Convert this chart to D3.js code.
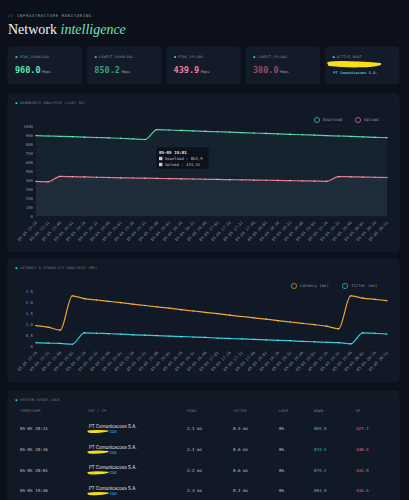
<!DOCTYPE html>
<html>
<head>
<meta charset="utf-8">
<script src="https://cdn.jsdelivr.net/npm/d3@7"></script>
<style>
  body { margin: 0; background: #0b101b; }
  svg { display: block; }
</style>
</head>
<body>
<div id="chart"></div>
<script>
const WIDTH = 409, HEIGHT = 500;
const MONO = "'DejaVu Sans Mono', monospace";
const SANS = "Inter, 'Noto Sans', sans-serif";

// data
const times = ["05-05 13:16","05-05 13:31","05-05 13:46","05-05 14:01","05-05 14:16","05-05 14:31",
  "05-05 14:46","05-05 15:01","05-05 15:16","05-05 15:31","05-05 15:46","05-05 16:01",
  "05-05 16:16","05-05 16:31","05-05 16:46","05-05 17:01","05-05 17:16","05-05 17:31",
  "05-05 17:46","05-05 18:01","05-05 18:16","05-05 18:31","05-05 18:46","05-05 19:01",
  "05-05 19:16","05-05 19:31","05-05 19:46","05-05 20:01","05-05 20:16","05-05 20:31"];
const download = [893, 889, 885, 881, 876, 872, 868, 863.9, 857, 850.2, 960.0, 955.3, 950.5, 945.8, 941.0,
  936.3, 931.5, 926.8, 922.0, 917.3, 912.5, 907.8, 903.0, 898.3, 893.5, 888.8, 884.0, 879.2, 874.5, 869.8];
const upload = [384, 380.0, 439.9, 436.8, 433.7, 430.6, 427.6, 424.55, 422.3, 420.0, 417.7, 415.5, 413.2, 410.9, 408.6,
  406.3, 404.1, 401.8, 399.5, 397.2, 394.9, 392.7, 390.4, 388.1, 385.8, 438.1, 435.5, 432.9, 430.3, 427.7];
const latency = [0.93, 0.86, 0.72, 2.28, 2.15, 2.09, 2.03, 1.97, 1.90, 1.84, 1.78, 1.72, 1.65, 1.59, 1.53,
  1.47, 1.40, 1.34, 1.28, 1.22, 1.15, 1.09, 1.03, 0.97, 0.90, 0.78, 2.28, 2.18, 2.12, 2.06];
const jitter = [0.15, 0.13, 0.12, 0.08, 0.60, 0.58, 0.56, 0.54, 0.51, 0.49, 0.47, 0.45, 0.43, 0.41, 0.39,
  0.36, 0.34, 0.32, 0.30, 0.28, 0.26, 0.24, 0.21, 0.19, 0.17, 0.15, 0.10, 0.60, 0.58, 0.54];
const bwTicks = [0, 100, 200, 300, 400, 500, 600, 700, 800, 900, 1000];
const latTicks = [0, 0.5, 1, 1.5, 2, 2.5];

const kpiLabels = ["PEAK_DOWNLOAD", "LOWEST_DOWNLOAD", "PEAK_UPLOAD", "LOWEST_UPLOAD"];
const kpiValues = ["960.0", "850.2", "439.9", "380.0"];

const logHeaders = ["TIMESTAMP", "ISP / IP", "PING", "JITTER", "LOSS", "DOWN", "UP"];
const logTimes = ["05-05 20:31", "05-05 20:16", "05-05 20:01", "05-05 19:46"];
const logPing = ["2.1 ms", "2.1 ms", "2.2 ms", "2.3 ms"];
const logJitter = ["0.5 ms", "0.6 ms", "0.6 ms", "0.1 ms"];
const logLoss = ["0%", "0%", "0%", "0%"];
const logDown = ["869.8", "874.5", "879.2", "884.0"];
const logUp = ["427.7", "430.3", "432.9", "435.5"];
const ispName = "PT Comunicacoes S.A.";

const tipIndex = 7;

let svg = d3.select("#chart").append("svg")
  .attr("width", WIDTH).attr("height", HEIGHT);

svg.append("rect").attr("width", WIDTH).attr("height", HEIGHT).attr("fill", "#0b101b");

// header
svg.append("text").attr("x", 8).attr("y", 17)
  .style("font-family", MONO).style("font-size", "3.8px").style("letter-spacing", "0.7px")
  .attr("fill", "#7fb8a4").text("// INFRASTRUCTURE MONITORING");
let title = svg.append("text").attr("x", 8).attr("y", 34)
  .style("font-family", "'Liberation Serif', serif").style("font-size", "14px");
title.append("tspan").attr("fill", "#f1f5f9").text("Network ");
title.append("tspan").attr("fill", "#6ee7b7").style("font-style", "italic").text("intelligence");

// kpi cards
const cardX = d3.scaleBand().domain(d3.range(5)).range([8, 399]).paddingInner(0.07);
const kpiColors = ["#5ee6a8", "#3c9c80", "#f27a9a", "#9a4a60"];

let cards = svg.append("g");
d3.range(5).forEach(function(i) {
  let g = cards.append("g").attr("transform", `translate(${cardX(i)}, 47)`);
  g.append("rect").attr("width", cardX.bandwidth()).attr("height", 37).attr("rx", 3)
    .attr("fill", "#131b29").attr("stroke", "#182131").attr("stroke-width", 0.5);
  g.append("rect").attr("x", 7.5).attr("y", 9.2).attr("width", 1.8).attr("height", 1.8).attr("fill", "#2dd4bf");
  g.append("text").attr("x", 11.5).attr("y", 11)
    .style("font-family", MONO).style("font-size", "3.3px").style("letter-spacing", "0.3px")
    .attr("fill", "#7b8597").text(i < 4 ? kpiLabels[i] : "ACTIVE_NODE");
  if (i < 4) {
    let t = g.append("text").attr("x", 7).attr("y", 26)
      .style("font-family", MONO);
    t.append("tspan").style("font-size", "8.5px").style("font-weight", "bold")
      .attr("fill", kpiColors[i]).text(kpiValues[i]);
    t.append("tspan").attr("dx", 1.5).style("font-size", "3.6px").attr("fill", "#94a3b8").text("Mbps");
  } else {
    g.append("path").attr("d", "M3,16 C12,14 30,15 55,17 C48,20 20,20 4,18 Z")
      .attr("fill", "#f7e017").attr("stroke", "#f7e017").attr("stroke-width", 2).attr("stroke-linejoin", "round");
    g.append("text").attr("x", 8).attr("y", 27)
      .style("font-family", MONO).style("font-size", "3.7px").style("font-weight", "bold")
      .attr("fill", "#4fb3d9").text(ispName);
  }
});

// panel helper
function panel(y, h, label) {
  let g = svg.append("g");
  g.append("rect").attr("x", 8).attr("y", y).attr("width", 391).attr("height", h).attr("rx", 4)
    .attr("fill", "#111826").attr("stroke", "#172032").attr("stroke-width", 0.6);
  g.append("rect").attr("x", 15.5).attr("y", y + 8.3).attr("width", 1.8).attr("height", 1.8).attr("fill", "#2dd4bf");
  g.append("text").attr("x", 20).attr("y", y + 10.2)
    .style("font-family", MONO).style("font-size", "3.4px").style("letter-spacing", "0.3px")
    .attr("fill", "#7b8597").text(label);
  return g;
}

let x = d3.scalePoint().domain(times).range([36, 387]);

function xAxis(y0) {
  let ax = svg.append("g").attr("transform", `translate(0, ${y0})`)
    .call(d3.axisBottom(x).tickSize(0).tickPadding(3));
  ax.select(".domain").remove();
  ax.selectAll("text")
    .style("font-family", MONO).style("font-size", "3.9px").attr("fill", "#8a93a5")
    .attr("text-anchor", "end").attr("dy", "0.3em")
    .attr("transform", "translate(-2, 2) rotate(-45)");
}

function legend(items, y0) {
  items.forEach(function(it) {
    svg.append("circle").attr("cx", it.x).attr("cy", y0).attr("r", 2.6)
      .attr("fill", "none").attr("stroke", it.color).attr("stroke-width", 0.8);
    svg.append("text").attr("x", it.x + 6).attr("y", y0 + 1.3)
      .style("font-family", MONO).style("font-size", "4px").attr("fill", "#8a93a5").text(it.label);
  });
}

// ---------- bandwidth chart ----------
panel(94, 158, "BANDWIDTH_ANALYSIS (LAST 30)");

let yBw = d3.scaleLinear().domain([0, 1000]).range([216, 126]);

svg.append("g").selectAll("line").data(bwTicks).join("line")
  .attr("x1", 36).attr("x2", 387)
  .attr("y1", d => yBw(d)).attr("y2", d => yBw(d))
  .attr("stroke", "#1c2536").attr("stroke-width", 0.5);

let area = function(vals) {
  return d3.area().x((d, i) => x(times[i])).y0(yBw(0)).y1(d => yBw(d))
    .curve(d3.curveMonotoneX)(vals);
};
svg.append("path").attr("d", area(download)).attr("fill", "#2c6e66").attr("fill-opacity", 0.12);
svg.append("path").attr("d", area(upload)).attr("fill", "#a6a8c8").attr("fill-opacity", 0.08);

let yAxBw = svg.append("g").attr("transform", "translate(33, 0)")
  .call(d3.axisLeft(yBw).tickValues(bwTicks).tickSize(0).tickPadding(0).tickFormat(d3.format("d")));
yAxBw.select(".domain").remove();
yAxBw.selectAll("text").style("font-family", MONO).style("font-size", "4px").attr("fill", "#8a93a5");

function series(vals, yScale, color, dotColor) {
  let line = d3.line().x((d, i) => x(times[i])).y(d => yScale(d)).curve(d3.curveMonotoneX);
  svg.append("path").attr("d", line(vals)).attr("fill", "none")
    .attr("stroke", color).attr("stroke-width", 1.2);
  svg.append("g").selectAll("circle").data(vals).join("circle")
    .attr("cx", (d, i) => x(times[i])).attr("cy", d => yScale(d)).attr("r", 0.7)
    .attr("fill", dotColor).attr("fill-opacity", 0.7);
}
series(download, yBw, "#4fd1a1", "#d6fbe9");
series(upload, yBw, "#e9788f", "#fde2e8");

xAxis(218);
legend([{x: 317, label: "Download", color: "#3fbf9a"}, {x: 358, label: "Upload", color: "#d16d8d"}], 120);

// tooltip
let tip = svg.append("g").attr("transform", "translate(156, 147)");
tip.append("rect").attr("width", 53).attr("height", 22).attr("rx", 1.5)
  .attr("fill", "#0c1119").attr("fill-opacity", 0.95).attr("stroke", "#1e2738").attr("stroke-width", 0.5);
tip.append("text").attr("x", 3).attr("y", 6.5)
  .style("font-family", MONO).style("font-size", "4.2px").style("font-weight", "bold")
  .attr("fill", "#e5e7eb").text(times[tipIndex]);
tip.append("rect").attr("x", 3).attr("y", 9.8).attr("width", 3.4).attr("height", 3.4).attr("fill", "#c8ccd2");
tip.append("text").attr("x", 9).attr("y", 12.8)
  .style("font-family", MONO).style("font-size", "3.9px").attr("fill", "#b8bfca")
  .text("Download : " + String(download[tipIndex]).replace(".", ","));
tip.append("rect").attr("x", 3).attr("y", 15.8).attr("width", 3.4).attr("height", 3.4).attr("fill", "#e6c1c8");
tip.append("text").attr("x", 9).attr("y", 18.8)
  .style("font-family", MONO).style("font-size", "3.9px").attr("fill", "#b8bfca")
  .text("Upload : " + String(upload[tipIndex]).replace(".", ","));

// ---------- latency chart ----------
panel(259, 123, "LATENCY & STABILITY ANALYSIS (MS)");

let yLat = d3.scaleLinear().domain([0, 2.5]).range([346, 291]);

svg.append("g").selectAll("line").data(latTicks).join("line")
  .attr("x1", 36).attr("x2", 387)
  .attr("y1", d => yLat(d)).attr("y2", d => yLat(d))
  .attr("stroke", "#1a2333").attr("stroke-width", 0.5);

let yAxLat = svg.append("g").attr("transform", "translate(33, 0)")
  .call(d3.axisLeft(yLat).tickValues(latTicks).tickSize(0).tickPadding(0)
    .tickFormat(d => d === 0 ? "0" : d3.format(".1f")(d).replace(".", ",")));
yAxLat.select(".domain").remove();
yAxLat.selectAll("text").style("font-family", MONO).style("font-size", "4px").attr("fill", "#8a93a5");

series(latency, yLat, "#f0a531", "#fde7c0");
series(jitter, yLat, "#2fd0e0", "#c8f6fb");

xAxis(348);
legend([{x: 294, label: "Latency (ms)", color: "#c98c2e"}, {x: 345, label: "Jitter (ms)", color: "#2aaec0"}], 286);

// ---------- event log ----------
panel(391, 130, "SYSTEM_EVENT_LOGS");

const colX = [20, 88, 187, 233, 279, 314, 356];
svg.append("g").selectAll("text").data(logHeaders).join("text")
  .attr("x", (d, i) => colX[i]).attr("y", 412)
  .style("font-family", MONO).style("font-size", "3.5px").style("letter-spacing", "0.2px")
  .attr("fill", "#7b8597").text(d => d);

const rowY = d3.scaleLinear().domain([0, 1]).range([429, 449.7]);
svg.append("g").selectAll("line").data(d3.range(4)).join("line")
  .attr("x1", 15).attr("x2", 392)
  .attr("y1", d => rowY(d) - 11).attr("y2", d => rowY(d) - 11)
  .attr("stroke", "#1a2232").attr("stroke-width", 0.5);

let rows = svg.append("g");
logTimes.forEach(function(t, i) {
  let y = rowY(i);
  let cell = (cx, txt, color) => rows.append("text").attr("x", cx).attr("y", y + 1.3)
    .style("font-family", MONO).style("font-size", "4.2px").attr("fill", color).text(txt);
  cell(colX[0], t, "#c3c9d4");
  rows.append("text").attr("x", 89).attr("y", y - 1.2)
    .style("font-family", SANS).style("font-size", "4.4px").attr("fill", "#e5e7eb").text(ispName);
  rows.append("path").attr("d", `M88,${y + 2.2} C94,${y + 1.3} 102,${y + 1.4} 108,${y + 2.0} C102,${y + 3.6} 94,${y + 3.6} 89,${y + 3.2} Z`)
    .attr("fill", "#f7e017").attr("stroke", "#f7e017").attr("stroke-width", 1.2).attr("stroke-linejoin", "round");
  rows.append("text").attr("x", 109.5).attr("y", y + 4)
    .style("font-family", SANS).style("font-size", "3.8px").attr("fill", "#38bdf8").text("208");
  cell(colX[2], logPing[i], "#c3c9d4");
  cell(colX[3], logJitter[i], "#c3c9d4");
  cell(colX[4], logLoss[i], "#c3c9d4");
  cell(colX[5], logDown[i], "#4fbf8f");
  cell(colX[6], logUp[i], "#e9788f");
});
</script>
</body>
</html>
